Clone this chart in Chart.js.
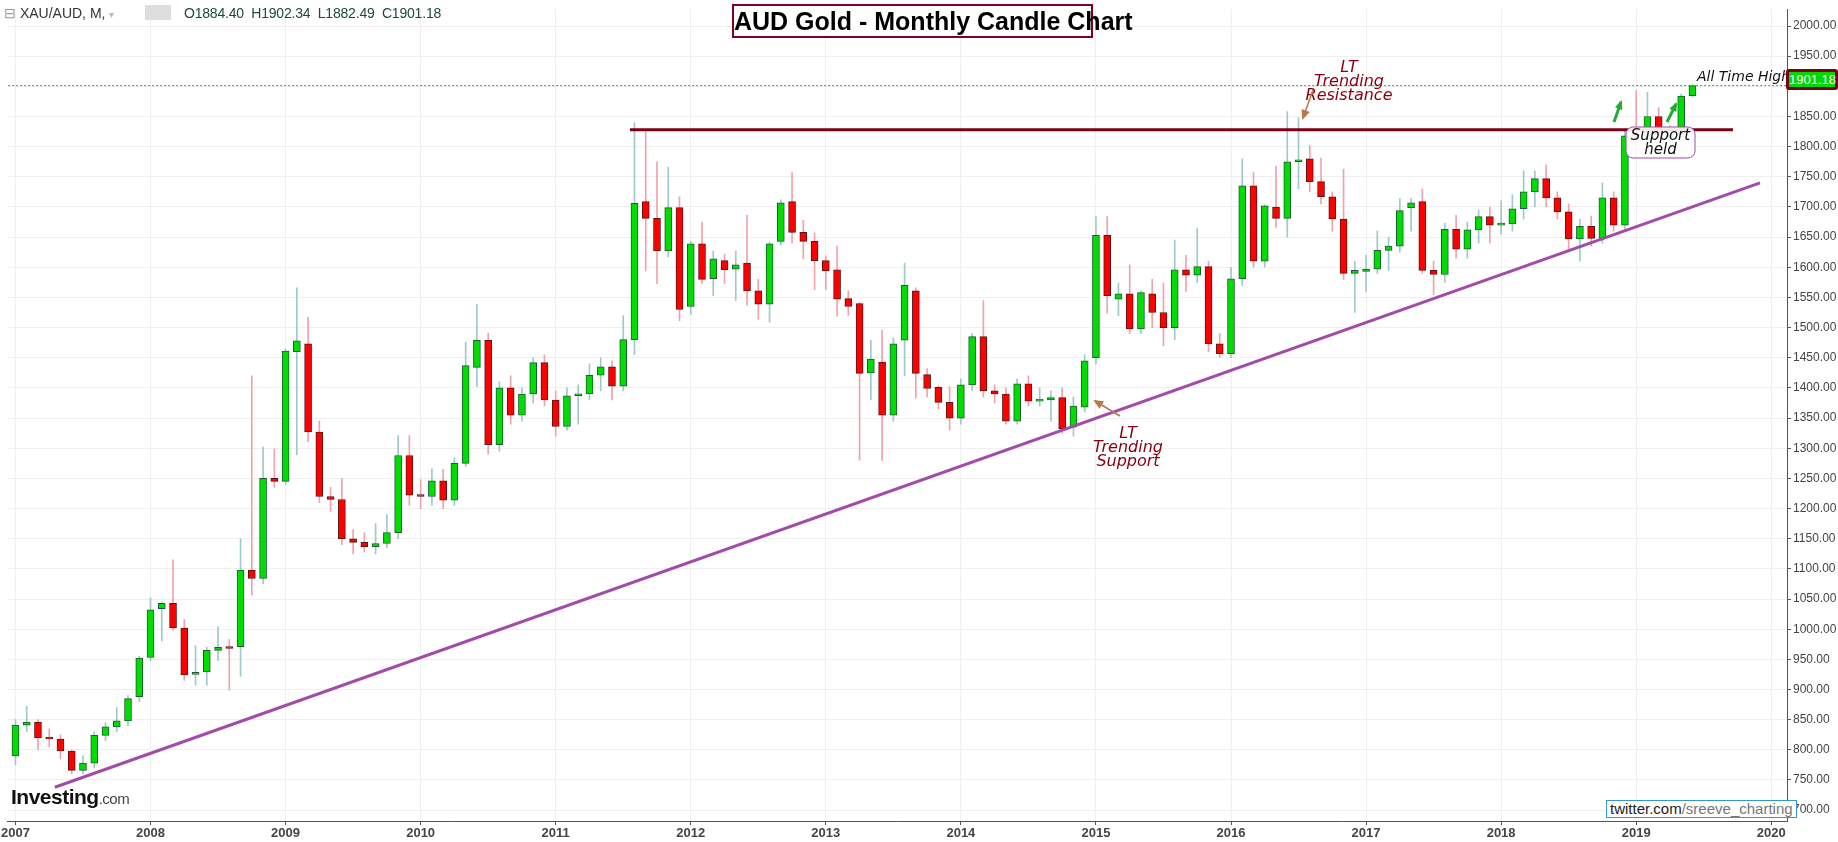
<!DOCTYPE html>
<html><head><meta charset="utf-8">
<script src="https://cdn.jsdelivr.net/npm/chart.js@4.4.0/dist/chart.umd.min.js"></script>
<style>
html,body{margin:0;padding:0;background:#fff;}
#wrap{position:relative;width:1838px;height:842px;overflow:hidden;font-family:Arial,"Liberation Sans",sans-serif;}
canvas{position:absolute;left:0;top:0;}
.ov{position:absolute;white-space:nowrap;}
</style></head><body>
<div id="wrap">
<canvas id="c" width="1838" height="842"></canvas>
<div class="ov" style="left:4px;top:5px;font-size:14px;color:#333;"><span style="color:#999">⊟</span> XAU/AUD, M, <span style="color:#bbb;font-size:10px">▾</span></div>
<div class="ov" style="left:145px;top:5px;width:26px;height:15px;background:#ddd;"></div>
<div class="ov" style="left:184px;top:5px;font-size:14px;color:#1d4a3a;letter-spacing:-0.2px">O1884.40&nbsp; H1902.34&nbsp; L1882.49&nbsp; C1901.18</div>
<div class="ov" style="left:732px;top:4px;width:357px;height:30px;border:2px solid #800020;background:#fff;text-align:center;font-family:'Liberation Sans Narrow','Arial Narrow',sans-serif;font-weight:bold;font-size:25px;line-height:30px;color:#000;">AUD Gold - Monthly Candle Chart</div>
<div class="ov" style="left:1606px;top:800px;border:1px solid #3399cc;background:#fff;padding:0 3px;font-size:15px;line-height:16px;color:#222;">twitter.com<span style="color:#777">/sreeve_charting</span></div>
<div class="ov" style="left:11px;top:785px;font-size:21px;font-weight:bold;color:#111;letter-spacing:-0.5px">Investing<span style="font-weight:normal;font-size:15px;color:#444">.com</span></div>
<div class="ov" style="left:1786px;top:69px;width:46px;height:15px;background:#00d800;border:3px solid #7a0018;border-radius:3px;color:#fff;font-size:13px;line-height:15px;text-align:center;">1901.18</div>
</div>
<script>
const years = [2007,2008,2009,2010,2011,2012,2013,2014,2015,2016,2017,2018,2019,2020];
const yTicks = [];
for (let v = 700; v <= 2000; v += 50) yTicks.push(v);
const opens = [
790,841,846,820,818,798,766,778,824,838,848,888,
953,1034,1043,1002,925,929,965,970,971,1098,1084,1250,
1245,1460,1473,1327,1220,1215,1150,1144,1137,1142,1160,1288,
1222,1220,1246,1214,1275,1434,1479,1306,1400,1355,1390,1442,
1380,1336,1387,1390,1421,1435,1403,1480,1709,1681,1627,1699,
1535,1639,1581,1611,1597,1607,1561,1539,1643,1709,1658,1643,
1611,1596,1548,1540,1425,1443,1355,1479,1561,1422,1401,1376,
1350,1405,1485,1395,1390,1345,1407,1378,1380,1384,1335,1368,
1450,1653,1547,1556,1498,1556,1525,1500,1596,1587,1601,1473,
1457,1581,1735,1610,1700,1681,1775,1780,1742,1717,1680,1590,
1593,1597,1628,1635,1699,1709,1595,1588,1663,1630,1662,1684,
1670,1672,1697,1725,1747,1715,1692,1647,1668,1648,1715,1670,
1818,1817,1850,1816,1820,1884.40];
const highs = [
850,872,850,835,825,800,790,830,845,870,890,955,
1052,1045,1115,1016,973,970,1004,983,1150,1420,1302,1299,
1465,1566,1517,1345,1235,1250,1165,1160,1175,1190,1321,1321,
1248,1266,1265,1284,1476,1539,1491,1410,1420,1400,1450,1455,
1395,1400,1405,1440,1450,1445,1520,1840,1825,1775,1766,1717,
1643,1675,1627,1622,1627,1686,1580,1642,1712,1757,1678,1657,
1619,1635,1561,1542,1479,1496,1483,1607,1566,1432,1404,1402,
1415,1490,1545,1405,1400,1415,1420,1400,1395,1400,1385,1455,
1684,1684,1574,1604,1561,1580,1574,1645,1620,1665,1610,1490,
1600,1780,1757,1704,1768,1858,1848,1802,1781,1725,1763,1610,
1620,1660,1650,1714,1714,1730,1610,1673,1686,1675,1695,1700,
1710,1720,1760,1760,1770,1725,1705,1680,1685,1740,1725,1830,
1893,1890,1865,1835,1887,1902.34];
const lows = [
775,830,800,805,785,760,760,770,815,830,840,880,
948,980,998,915,907,907,948,899,922,1057,1075,1235,
1240,1289,1311,1210,1195,1140,1125,1128,1125,1135,1150,1205,
1200,1205,1200,1205,1270,1402,1290,1295,1340,1345,1375,1370,
1320,1330,1340,1380,1395,1380,1395,1455,1594,1573,1617,1511,
1522,1573,1553,1573,1545,1537,1514,1509,1637,1640,1614,1563,
1563,1519,1520,1280,1380,1280,1345,1420,1383,1385,1365,1330,
1340,1395,1385,1375,1340,1340,1370,1370,1345,1325,1320,1360,
1440,1524,1520,1490,1490,1500,1470,1480,1560,1575,1460,1450,
1450,1570,1600,1600,1666,1650,1730,1725,1705,1660,1580,1525,
1560,1590,1595,1625,1660,1590,1555,1575,1615,1615,1640,1640,
1655,1660,1680,1700,1700,1680,1630,1610,1635,1640,1660,1660,
1782,1812,1811,1805,1815,1882.49];
const closes = [
841,846,820,818,798,766,778,824,838,848,885,952,
1032,1043,1002,924,927,965,970,968,1098,1084,1250,1245,
1461,1478,1327,1220,1215,1150,1144,1137,1142,1160,1288,1222,
1220,1246,1214,1275,1437,1479,1306,1400,1355,1390,1442,1380,
1336,1387,1390,1421,1435,1403,1480,1706,1681,1627,1699,1530,
1639,1580,1614,1596,1604,1561,1539,1639,1707,1658,1643,1611,
1594,1547,1535,1424,1448,1355,1473,1570,1424,1399,1376,1350,
1405,1485,1395,1390,1345,1407,1378,1380,1384,1332,1370,1445,
1653,1553,1556,1498,1558,1525,1500,1596,1587,1601,1473,1457,
1581,1735,1610,1702,1681,1775,1778,1742,1717,1680,1590,1595,
1597,1628,1635,1694,1707,1595,1588,1663,1630,1662,1684,1670,
1672,1697,1725,1747,1715,1692,1647,1668,1648,1715,1670,1818,
1817,1850,1820,1822,1884,1901.18];
// annotation lines (month index from Jan 2007, price)
const supportLine = [[3.5,738],[155.0,1740]];
const resistanceLine = [[54.6,1828],[152.6,1828]];
const athLevel = 1901.18;

const wickData = [], bodyData = [], wickCol = [], bodyCol = [], bodyBorder = [];
for (let i = 0; i < closes.length; i++) {
  const up = closes[i] >= opens[i];
  wickData.push({x:i, y:[lows[i], highs[i]]});
  bodyData.push({x:i, y:[opens[i], closes[i]]});
  wickCol.push(up ? '#9fc9cc' : '#f2a2ab');
  bodyCol.push(up ? '#00dd00' : '#ff0000');
  bodyBorder.push(up ? '#1e5a34' : '#5a1414');
}

const annot = {
  id:'annot',
  afterDatasetsDraw(chart){
    const c = chart.ctx;
    c.save();
    function arrow(x1,y1,x2,y2,col,w,hs){
      c.save();
      c.strokeStyle=col;c.fillStyle=col;c.lineWidth=w;
      c.beginPath();c.moveTo(x1,y1);c.lineTo(x2,y2);c.stroke();
      const a=Math.atan2(y2-y1,x2-x1);
      c.beginPath();c.moveTo(x2+Math.cos(a)*2,y2+Math.sin(a)*2);
      c.lineTo(x2-hs*Math.cos(a-0.5),y2-hs*Math.sin(a-0.5));
      c.lineTo(x2-hs*Math.cos(a+0.5),y2-hs*Math.sin(a+0.5));
      c.closePath();c.fill();
      c.restore();
    }
    c.font='italic 16px "DejaVu Sans", sans-serif';
    c.textAlign='center';c.textBaseline='middle';
    c.fillStyle='#8b0010';
    c.fillText('LT',1349,68);c.fillText('Trending',1349,82);c.fillText('Resistance',1349,96);
    c.fillText('LT',1128,434);c.fillText('Trending',1128,448);c.fillText('Support',1128,462);
    arrow(1313,90,1303,118,'#b8784a',1.5,9);
    arrow(1120,416,1095,401,'#b8784a',1.5,9);
    c.font='italic 14px "DejaVu Sans", sans-serif';
    c.textAlign='left';c.fillStyle='#111';
    c.fillText('All Time High',1697,77);
    c.strokeStyle='#9b4fa6';c.lineWidth=1;
    const bx=1626,by=127,bw=69,bh=31,r=7;
    c.fillStyle='rgba(255,255,255,0.9)';
    c.beginPath();c.moveTo(bx+r,by);c.arcTo(bx+bw,by,bx+bw,by+bh,r);c.arcTo(bx+bw,by+bh,bx,by+bh,r);
    c.arcTo(bx,by+bh,bx,by,r);c.arcTo(bx,by,bx+bw,by,r);c.closePath();c.fill();c.stroke();
    c.font='italic 15px "DejaVu Sans", sans-serif';
    c.fillStyle='#111';c.textAlign='center';
    c.fillText('Support',bx+bw/2,by+9);c.fillText('held',bx+bw/2,by+23);
    arrow(1614,122,1621,102,'#22aa33',3,8);
    arrow(1667,122,1676,104,'#22aa33',3,8);
    c.restore();
  }
};

new Chart(document.getElementById('c'), {
  type:'bar',
  data:{datasets:[
    {type:'line',data:[{x:-1,y:athLevel},{x:158,y:athLevel}],borderColor:'#00c400',borderWidth:1,borderDash:[2,2],pointRadius:0,order:0},
    {type:'line',data:supportLine.map(p=>({x:p[0],y:p[1]})),borderColor:'#a14ca8',borderWidth:3,pointRadius:0,order:0},
    {type:'line',data:resistanceLine.map(p=>({x:p[0],y:p[1]})),borderColor:'#7c0016',borderWidth:3,pointRadius:0,order:0},
    {data:bodyData,backgroundColor:bodyCol,borderColor:bodyBorder,borderWidth:1,borderSkipped:false,barThickness:7,minBarLength:2,grouped:false,order:1},
    {data:wickData,backgroundColor:wickCol,borderWidth:0,barThickness:1,grouped:false,order:2}
  ]},
  options:{
    responsive:false,animation:false,devicePixelRatio:1,
    layout:{padding:0},
    plugins:{legend:{display:false},tooltip:{enabled:false}},
    scales:{
      x:{type:'linear',min:-0.71,max:157.4,offset:false,position:'bottom',
        grid:{color:'#efefef',tickLength:4,tickColor:'#555',offset:false},
        border:{color:'#555'},
        afterBuildTicks(s){s.ticks=years.map((y,k)=>({value:k*12}));},
        ticks:{color:'#444',font:{size:13,weight:'bold',family:'Arial, "Liberation Sans"'},maxRotation:0,autoSkip:false,padding:1,
          callback:(v)=>String(years[0]+Math.round(v/12))},
        afterFit(s){s.height=21;}
      },
      y:{type:'linear',position:'right',min:682,max:2027.9,
        grid:{color:'#efefef',tickLength:4,tickColor:'#555'},
        border:{color:'#555'},
        afterBuildTicks(s){s.ticks=yTicks.map(v=>({value:v}));},
        ticks:{color:'#444',font:{size:12,family:'Arial, "Liberation Sans"'},padding:2,callback:(v)=>v.toFixed(2)},
        afterFit(s){s.width=51;}
      }
    }
  },
  plugins:[annot]
});
</script>
</body></html>
